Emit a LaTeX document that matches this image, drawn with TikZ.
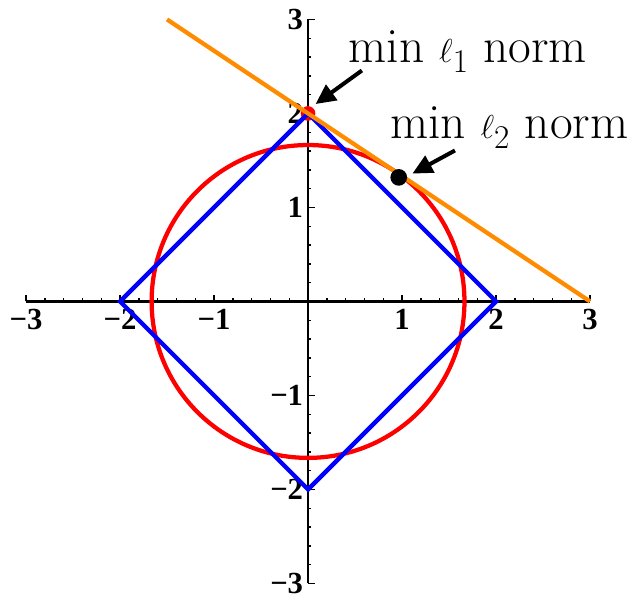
\documentclass[tikz,border=0pt]{standalone}
\usepackage{fontspec}
\newfontfamily\tickfont{Liberation Serif}
\usetikzlibrary{arrows.meta}
\definecolor{plotorange}{RGB}{255,140,0}
\definecolor{plotred}{RGB}{255,0,0}
\definecolor{plotblue}{RGB}{0,0,255}
\begin{document}
\begin{tikzpicture}[x=70.5pt,y=70.5pt,
  axisline/.style={line width=1.6pt, black},
  tickmark/.style={line width=1.1pt, black},
  curve/.style={line width=3.2pt, line join=miter},
  ticklabel/.style={font=\tickfont\bfseries\fontsize{23}{23}\selectfont, inner sep=0pt},
  callout/.style={font=\fontsize{37}{44}\selectfont, inner sep=0pt, anchor=base},
  pointer/.style={line width=3pt, -{Triangle[length=15pt,width=14pt]}},
  dotmark/.style={circle, inner sep=0pt, minimum size=#1}
]
\useasboundingbox (-3.277,-3.144) rectangle (3.457,3.207);
% axes
\coordinate (xa) at (-3,0);
\coordinate (xb) at (3,0);
\coordinate (ya) at (0,-3);
\coordinate (yb) at (0,3);
\draw[axisline] (xa) -- (xb);
\draw[axisline] (ya) -- (yb);
\foreach \i in {-15,...,15} {
  \draw[tickmark] (\i/5,0) -- ++(0,0.035);
  \draw[tickmark] (0,\i/5) -- ++(0.035,0);
}
\foreach \i in {-3,...,3} {
  \draw[tickmark] (\i,0) -- ++(0,0.07);
  \draw[tickmark] (0,\i) -- ++(0.07,0);
}
% tick labels
\foreach \v/\t [count=\k] in {-3/{−3},-2/{−2},-1/{−1},1/1,2/2,3/3} {
  \node[ticklabel] (xl\k) at (\v,-0.19) {\t};
  \node[ticklabel, anchor=east] (yl\k) at (-0.05,\v) {\t};
}
% curves
\draw[curve, plotred] (0,0) circle (1.6641);
\node[dotmark=11pt, fill=plotred] (p1) at (0,2) {};
\draw[curve, plotblue] (2,0) -- (0,2) -- (-2,0) -- (0,-2) -- cycle;
\coordinate (la) at (-1.5,3);
\coordinate (lb) at (3,0);
\draw[curve, plotorange] (la) -- (lb);
% point
\node[dotmark=12.5pt, fill=black] (p2) at (0.965,1.32) {};
% callouts
\node[callout] (t1) at (1.70,2.54) {min $\ell_1$ norm};
\node[callout] (t2) at (2.14,1.73) {min $\ell_2$ norm};
\coordinate (a1s) at (0.573,2.457);
\coordinate (a1e) at (0.08,2.10);
\coordinate (a2s) at (1.563,1.606);
\coordinate (a2e) at (1.11,1.36);
\draw[pointer] (a1s) -- (a1e);
\draw[pointer] (a2s) -- (a2e);
\end{tikzpicture}
\end{document}
